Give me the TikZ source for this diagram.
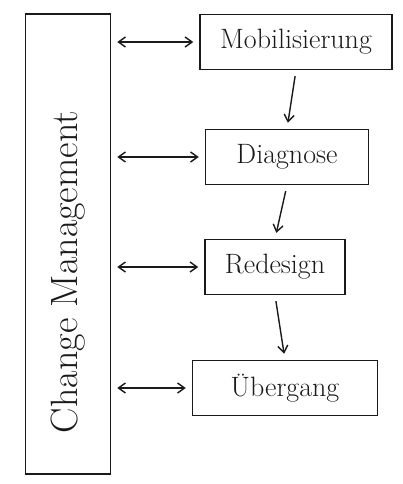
\documentclass[tikz,border=0pt]{standalone}
\usepackage{tikz}
\usetikzlibrary{arrows.meta}
\definecolor{INK}{HTML}{1A1A1A}
\tikzset{
  stage/.style={draw, INK, line width=1.5pt, minimum height=55pt, inner sep=4pt,
    font=\fontsize{28}{32}\selectfont},
  flow/.style={->, line width=1.4pt, INK, shorten >=6pt, shorten <=6pt},
  link/.style={<->, line width=1.4pt, INK, shorten >=6pt, shorten <=6pt}
}
\begin{document}
\begin{tikzpicture}[x=1pt, y=-1pt, >={Straight Barb[length=7pt,width=10pt]}]
      \useasboundingbox (0,0) rectangle (403,484);

      % Frame on the left
      \node[draw, INK, line width=1.5pt, minimum width=85pt, minimum height=460pt] (cm) at (68,244) {};
      \node[rotate=90, INK, font=\fontsize{38}{44}\selectfont] (cmlabel) at (68,272) {Change Management};

      % Phases
      \node[stage, minimum width=192pt] (mob) at (296,42) {Mobilisierung};
      \node[stage, minimum width=163pt] (diag) at (287,157) {Diagnose};
      \node[stage, minimum width=140pt] (redes) at (275,267) {Redesign};
      \node[stage, minimum width=185pt] (ueber) at (285,388) {Übergang};

      % Sequence
      \draw[flow] (mob.south) -- (diag.north);
      \draw[flow] (diag.south) -- (redes.north);
      \draw[flow] (redes.south) -- (ueber.north);

      % Links to the frame
      \draw[link] (cm.east |- mob.west) -- (mob.west);
      \draw[link] (cm.east |- diag.west) -- (diag.west);
      \draw[link] (cm.east |- redes.west) -- (redes.west);
      \draw[link] (cm.east |- ueber.west) -- (ueber.west);
    \end{tikzpicture}
\end{document}
